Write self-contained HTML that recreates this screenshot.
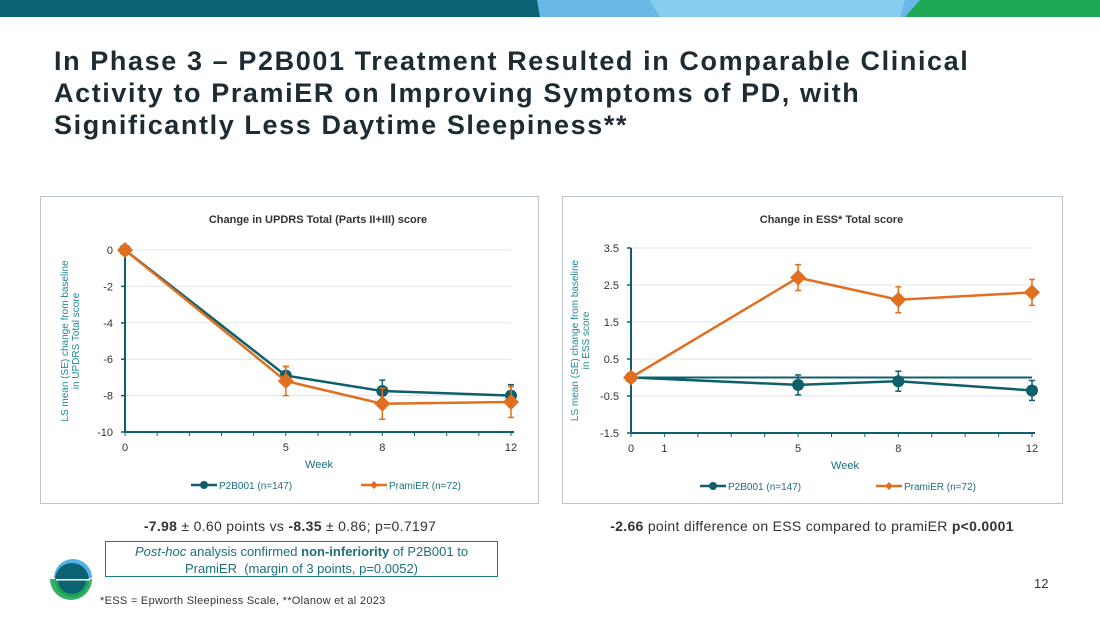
<!DOCTYPE html>
<html><head><meta charset="utf-8"><style>
body{margin:0;width:1100px;height:619px;overflow:hidden;background:#fff;font-family:"Liberation Sans",sans-serif;position:relative}
.abs{position:absolute}
h1{position:absolute;left:54px;top:45px;margin:0;font-size:27px;line-height:32px;font-weight:bold;color:#1d2b33;letter-spacing:1.6px}
.panel{position:absolute;border:1.5px solid #b9c6ce;background:#fff}
</style></head><body>
<svg class="abs" style="left:0;top:0" width="1100" height="17">
<rect x="0" y="0" width="540" height="17" fill="#0b6372"/>
<polygon points="537,0 920,0 913,17 540,17" fill="#6bb8e6"/>
<polygon points="650,0 905,0 900,17 660,17" fill="#86cdf0"/>
<polygon points="920,0 1100,0 1100,17 905,17" fill="#1fa957"/>
</svg>
<h1>In Phase 3 – P2B001 Treatment Resulted in Comparable Clinical<br>Activity to PramiER on Improving Symptoms of PD, with<br>Significantly Less Daytime Sleepiness**</h1>
<div class="panel" style="left:40px;top:196px;width:497px;height:306px"></div>
<div class="panel" style="left:562px;top:196px;width:499px;height:306px"></div>
<svg id="c1" class="abs" style="left:0;top:0" width="1100" height="619"></svg>
<div class="abs" style="left:40px;top:518px;width:500px;text-align:center;font-size:14px;color:#333;letter-spacing:0.3px"><b>-7.98</b> ± 0.60 points vs <b>-8.35</b> ± 0.86; p=0.7197</div>
<div class="abs" style="left:105px;top:541px;width:393px;height:36px;border:1.5px solid #1e7b88;text-align:center;font-size:13px;line-height:17px;color:#1e6f7c;padding-top:1px;box-sizing:border-box"><i>Post-hoc</i> analysis confirmed <b>non-inferiority</b> of P2B001 to<br>PramiER &nbsp;(margin of 3 points, p=0.0052)</div>
<div class="abs" style="left:562px;top:518px;width:500px;text-align:center;font-size:14px;color:#333;letter-spacing:0.3px"><b>-2.66</b> point difference on ESS compared to pramiER <b>p&lt;0.0001</b></div>
<div class="abs" style="left:100px;top:595px;font-size:11px;color:#333;letter-spacing:0.3px">*ESS = Epworth Sleepiness Scale, **Olanow et al 2023</div>
<div class="abs" style="left:1034px;top:576px;font-size:13px;color:#333">12</div>
<svg class="abs" style="left:48px;top:555px" width="50" height="50">
<path d="M6,23 A19,19 0 0 1 44,23 Z" fill="#4fb3e8"/>
<circle cx="24" cy="25" r="17" fill="#0b6372"/>
<path d="M2,24 L44,24 A21,21 0 0 1 2,24 Z" fill="#1fa957" opacity="0.9"/>
<circle cx="24" cy="25" r="14" fill="#0b6372"/>
<rect x="8" y="24" width="34" height="1.5" fill="#fff"/>
</svg>
<script>
const weeks=[0,5,8,12];
const updrsP2B=[0,-6.9,-7.75,-8.0];
const updrsP2BErr=[0,0.5,0.6,0.6];
const updrsPrami=[0,-7.2,-8.45,-8.35];
const updrsPramiErr=[0,0.8,0.85,0.85];
const updrsTicks=[0,-2,-4,-6,-8,-10];
const essP2B=[0,-0.2,-0.1,-0.35];
const essP2BErr=[0,0.27,0.27,0.27];
const essPrami=[0,2.7,2.1,2.3];
const essPramiErr=[0,0.35,0.35,0.35];
const essTicks=[3.5,2.5,1.5,0.5,-0.5,-1.5];
const essXTicks=[0,1,5,8,12];
const NS="http://www.w3.org/2000/svg";
const svg=document.getElementById('c1');
function el(t,a,txt){const e=document.createElementNS(NS,t);for(const k in a)e.setAttribute(k,a[k]);if(txt!==undefined)e.textContent=txt;svg.appendChild(e);return e;}
const TEAL="#0e5f6c",ORG="#e07020";
function chart(o){
 const X=w=>o.x0+(w/12)*(o.x1-o.x0);
 const Y=v=>o.y0+(o.vmax-v)/(o.vmax-o.vmin)*(o.y1-o.y0);
 let t=el('text',{x:(o.x0+o.x1)/2,y:o.ty,'text-anchor':'middle','font-size':11,'font-weight':'bold',fill:'#333'},o.title);
 
 o.ticks.forEach(v=>{
  if(v!==o.vmin){let g=el('line',{x1:o.x0,x2:o.x1,y1:Y(v),y2:Y(v),stroke:'#e3e3e3','stroke-width':1});}
  let l=el('text',{x:o.x0-12,y:Y(v)+4,'text-anchor':'end','font-size':11,fill:'#333'},String(v));
  
  el('line',{x1:o.x0-4,x2:o.x0,y1:Y(v),y2:Y(v),stroke:TEAL,'stroke-width':1.5});
 });
 if(o.zeroLine){let z=el('line',{x1:o.x0,x2:o.x1,y1:Y(0),y2:Y(0),stroke:TEAL,'stroke-width':2});}
 let ya=el('line',{x1:o.x0,x2:o.x0,y1:o.y0,y2:o.y1,stroke:TEAL,'stroke-width':2});
 let xa=el('line',{x1:o.x0,x2:o.x1+3,y1:o.y1,y2:o.y1,stroke:TEAL,'stroke-width':2});
 for(let w=0;w<=12;w++)el('line',{x1:X(w),x2:X(w),y1:o.y1,y2:o.y1+4,stroke:TEAL,'stroke-width':1});
 o.xticks.forEach(w=>{let l=el('text',{x:X(w),y:o.y1+19,'text-anchor':'middle','font-size':11,fill:'#333'},String(w));});
 let xt=el('text',{x:o.xtx,y:o.y1+36,'text-anchor':'middle','font-size':11,fill:'#1e6f7c'},'Week');
 let yt=el('text',{transform:`translate(${o.ylx},${(o.y0+o.y1)/2}) rotate(-90)`,'text-anchor':'middle','font-size':10,fill:'#1e8a96'});
 
 const ts1=document.createElementNS(NS,'tspan');ts1.setAttribute('x',0);ts1.setAttribute('dy',0);ts1.textContent=o.ylab[0];yt.appendChild(ts1);
 const ts2=document.createElementNS(NS,'tspan');ts2.setAttribute('x',0);ts2.setAttribute('dy',11);ts2.textContent=o.ylab[1];yt.appendChild(ts2);
 [[o.s1,o.e1,TEAL,'p2b001','c'],[o.s2,o.e2,ORG,'pramier','d']].forEach(([s,e,c,n,m])=>{
  let p=el('polyline',{points:weeks.map((w,i)=>X(w)+','+Y(s[i])).join(' '),fill:'none',stroke:c,'stroke-width':2.5});
  
  weeks.forEach((w,i)=>{
   if(e[i]>0){el('line',{x1:X(w),x2:X(w),y1:Y(s[i]+e[i]),y2:Y(s[i]-e[i]),stroke:c,'stroke-width':1.5});
    [s[i]+e[i],s[i]-e[i]].forEach(v=>el('line',{x1:X(w)-3,x2:X(w)+3,y1:Y(v),y2:Y(v),stroke:c,'stroke-width':1.5}));}
   let mk;
   if(m==='c')mk=el('circle',{cx:X(w),cy:Y(s[i]),r:6,fill:c});
   else{const x=X(w),y=Y(s[i]);mk=el('polygon',{points:`${x},${y-8} ${x+8},${y} ${x},${y+8} ${x-8},${y}`,fill:c});}
   
  });
 });
 const ly=o.y1+53;
 el('line',{x1:o.lx1,x2:o.lx1+26,y1:ly,y2:ly,stroke:TEAL,'stroke-width':2.5});el('circle',{cx:o.lx1+13,cy:ly,r:4,fill:TEAL});
 let a=el('text',{x:o.lx1+28,y:ly+4,'font-size':10,fill:'#1e6f7c'},'P2B001 (n=147)');
 el('line',{x1:o.lx2,x2:o.lx2+26,y1:ly,y2:ly,stroke:ORG,'stroke-width':2.5});el('polygon',{points:`${o.lx2+13},${ly-4} ${o.lx2+17},${ly} ${o.lx2+13},${ly+4} ${o.lx2+9},${ly}`,fill:ORG});
 let b=el('text',{x:o.lx2+28,y:ly+4,'font-size':10,fill:'#1e6f7c'},'PramiER (n=72)');
}
chart({id:'updrs',title:'Change in UPDRS Total (Parts II+III) score',ty:223,x0:125,x1:511,y0:250,y1:432,vmax:0,vmin:-10,ticks:updrsTicks,xticks:weeks,s1:updrsP2B,e1:updrsP2BErr,s2:updrsPrami,e2:updrsPramiErr,ylab:['LS mean (SE) change from baseline','in UPDRS Total score'],ylx:68,xtx:319,lx1:191,lx2:361});
chart({id:'ess',title:'Change in ESS* Total score',ty:223,x0:631,x1:1032,y0:248,y1:433,vmax:3.5,vmin:-1.5,ticks:essTicks,xticks:essXTicks,zeroLine:true,s1:essP2B,e1:essP2BErr,s2:essPrami,e2:essPramiErr,ylab:['LS mean (SE) change from baseline','in ESS score'],ylx:578,xtx:845,lx1:700,lx2:876});
</script>
</body></html>
